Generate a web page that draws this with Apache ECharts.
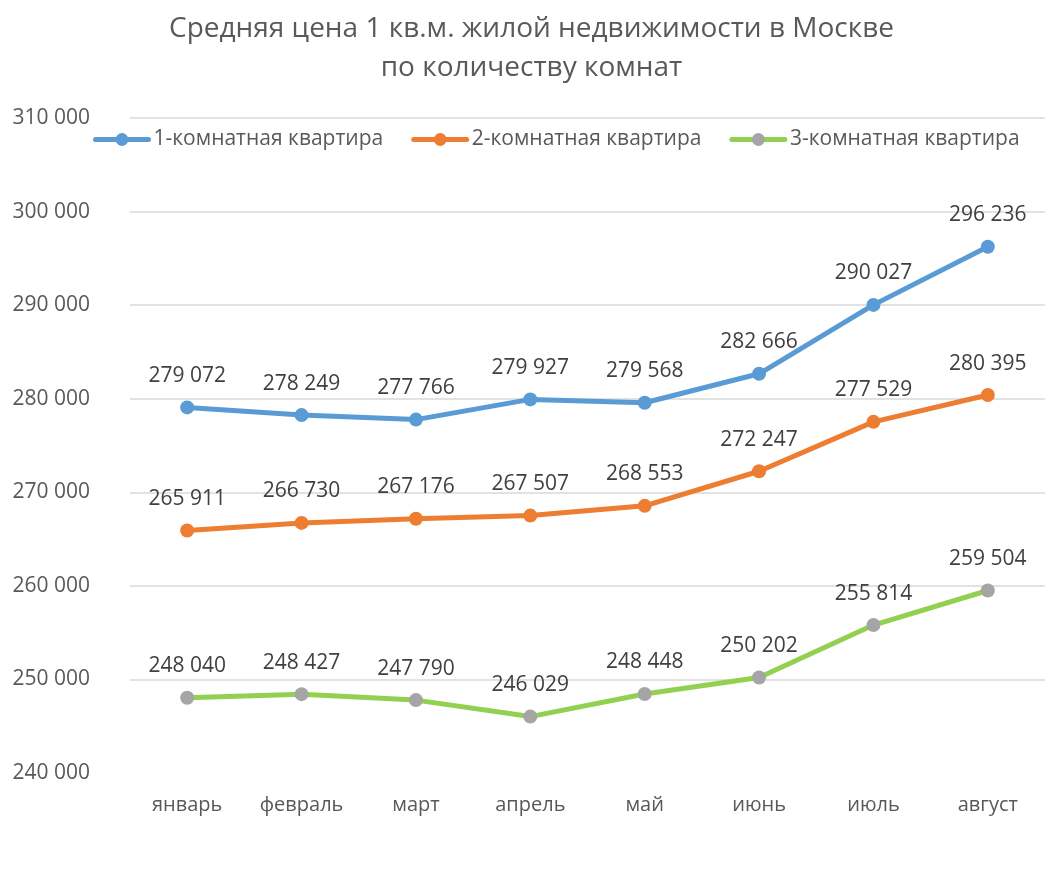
<!DOCTYPE html>
<html>
<head>
<meta charset="utf-8">
<script src="https://cdn.jsdelivr.net/npm/echarts@6/dist/echarts.min.js"></script>
<style>
  html, body { margin: 0; padding: 0; background: #fff; }
  #chart { width: 1063px; height: 883px; }
</style>
</head>
<body>
<div id="chart"></div>
<script>
const months = ['январь', 'февраль', 'март', 'апрель', 'май', 'июнь', 'июль', 'август'];
const oneRoom = [279072, 278249, 277766, 279927, 279568, 282666, 290027, 296236];
const twoRoom = [265911, 266730, 267176, 267507, 268553, 272247, 277529, 280395];
const threeRoom = [248040, 248427, 247790, 246029, 248448, 250202, 255814, 259504];
const seriesNames = ['1-комнатная квартира', '2-комнатная квартира', '3-комнатная квартира'];

const FONT = '"Open Sans", "Noto Sans", sans-serif';
const fmt = (v) => String(v).replace(/\B(?=(\d{3})+(?!\d))/g, ' ');

function makeSeries(name, data, lineColor, markerColor) {
    return {
        name,
        type: 'line',
        data,
        symbol: 'circle',
        symbolSize: 14,
        lineStyle: { color: lineColor, width: 5, cap: 'round' },
        itemStyle: { color: markerColor },
        label: {
            show: true,
            position: 'top',
            distance: 14,
            fontFamily: FONT,
            fontSize: 21,
            color: '#404040',
            formatter: (p) => fmt(p.value),
        },
        emphasis: { disabled: true },
        animation: false,
    };
}

const chart = echarts.init(document.getElementById('chart'));
chart.setOption({
    backgroundColor: '#fff',
    title: {
        text: 'Средняя цена 1 кв.м. жилой недвижимости в Москве\nпо количеству комнат',
        left: 'center',
        top: 5,
        textStyle: {
            fontFamily: FONT,
            fontSize: 28,
            fontWeight: 'normal',
            color: '#595959',
            lineHeight: 39,
        },
    },
    legend: {
        top: 124,
        left: 88,
        itemWidth: 53,
        itemHeight: 16,
        itemGap: 28,
        lineStyle: { width: 5, cap: 'round' },
        textStyle: { fontFamily: FONT, fontSize: 21, color: '#595959' },
        data: seriesNames,
    },
    grid: { left: 130, right: 18, top: 118, bottom: 110 },
    xAxis: {
        type: 'category',
        data: months,
        boundaryGap: true,
        axisLine: { show: false },
        axisTick: { show: false },
        axisLabel: { fontFamily: FONT, fontSize: 20, color: '#595959', margin: 22 },
    },
    yAxis: {
        type: 'value',
        min: 240000,
        max: 310000,
        interval: 10000,
        axisLine: { show: false },
        axisTick: { show: false },
        axisLabel: { fontFamily: FONT, fontSize: 21, color: '#595959', margin: 40, formatter: fmt },
        splitLine: {
            lineStyle: {
                color: ['rgba(0,0,0,0)', '#d9d9d9', '#d9d9d9', '#d9d9d9', '#d9d9d9', '#d9d9d9', '#d9d9d9', '#d9d9d9'],
                width: 1.5,
            },
        },
    },
    series: [
        makeSeries(seriesNames[0], oneRoom, '#5B9BD5', '#5B9BD5'),
        makeSeries(seriesNames[1], twoRoom, '#ED7D31', '#ED7D31'),
        makeSeries(seriesNames[2], threeRoom, '#92D050', '#A5A5A5'),
    ],
});
</script>
</body>
</html>
